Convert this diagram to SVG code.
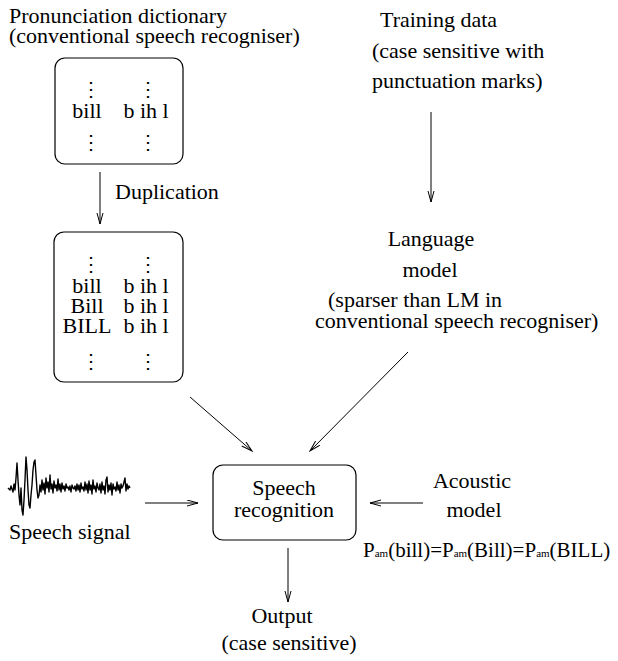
<svg xmlns="http://www.w3.org/2000/svg" width="618" height="661" viewBox="0 0 618 661">
<style>
text{font-family:"Liberation Serif","Times New Roman",serif;font-size:22px;fill:#000}
.dots{font-family:"DejaVu Serif",serif;font-size:20px}
.box{fill:none;stroke:#000;stroke-width:1.2}
.con line{stroke:#000;stroke-width:1;marker-end:url(#arr)}
.m{text-anchor:middle}
.pam{font-size:21px}
.sub{font-size:11px}
</style>
<defs>
<marker id="arr" markerUnits="userSpaceOnUse" markerWidth="13" markerHeight="8" refX="11" refY="3.5" orient="auto">
<path d="M0,0.5 L11,3.5 L0,6.5" fill="none" stroke="#000" stroke-width="1"/>
</marker>
</defs>
<rect width="618" height="661" fill="#fff"/>
<g id="dict-title">
<text x="9" y="23">Pronunciation dictionary</text>
<text x="9" y="43">(conventional speech recogniser)</text>
</g>
<g id="dict-box">
<rect class="box" x="55" y="58" width="128" height="106" rx="10"/>
<text class="dots m" x="91" y="96">⋮</text>
<text class="dots m" x="148" y="96">⋮</text>
<text class="m" x="87" y="118">bill</text>
<text class="m" x="146" y="118">b ih l</text>
<text class="dots m" x="91" y="149">⋮</text>
<text class="dots m" x="148" y="149">⋮</text>
</g>
<g id="duplication-label"><text x="115" y="199">Duplication</text></g>
<g id="dup-box">
<rect class="box" x="54" y="232" width="129" height="150" rx="10"/>
<text class="dots m" x="91" y="271">⋮</text>
<text class="dots m" x="148" y="271">⋮</text>
<text class="m" x="87" y="293">bill</text>
<text class="m" x="146" y="293">b ih l</text>
<text class="m" x="87" y="313">Bill</text>
<text class="m" x="146" y="313">b ih l</text>
<text class="m" x="87" y="333">BILL</text>
<text class="m" x="146" y="333">b ih l</text>
<text class="dots m" x="91" y="368">⋮</text>
<text class="dots m" x="148" y="368">⋮</text>
</g>
<g id="training-data">
<text x="380" y="27">Training data</text>
<text x="372" y="58">(case sensitive with</text>
<text x="372" y="88">punctuation marks)</text>
</g>
<g id="language-model">
<text class="m" x="431" y="246">Language</text>
<text class="m" x="430" y="277">model</text>
<text x="328" y="307">(sparser than LM in</text>
<text x="315" y="328">conventional speech recogniser)</text>
</g>
<g id="speech-signal">
<polyline fill="none" stroke="#000" stroke-width="1.4" stroke-linejoin="round" points="8,488 10,490 11,486 13,492 14,484 15,490 16,478 17,463 18,480 19,495 20,505 21,488 22,510 23,515 24,500 25,480 26,457 27,470 28,490 29,505 30,508 31,495 32,485 33,470 34,462 35,460 36,475 37,490 38,498 39,495 40,485 41,492 42,480 43,490 44,483 45,494 46,478 47,488 48,482 49,492 50,475 51,489 52,484 53,493 54,481 55,488 56,485 57,491 58,479 59,490 60,484 61,492 62,483 63,489 64,486 65,491 66,484 67,488 68,487 69,490 70,486 71,492 72,485 73,488 74,489 75,486 76,491 77,484 78,490 79,485 80,492 81,483 82,489 83,487 84,491 85,482 86,490 87,484 88,493 89,481 90,490 91,485 92,494 93,480 94,489 95,486 96,492 97,483 98,488 99,490 100,484 101,493 102,482 103,490 104,486 105,494 106,480 107,477 108,492 109,485 110,490 111,483 112,495 113,484 114,489 115,487 116,491 117,482 118,490 119,485 120,493 121,484 122,488 123,486 124,482 125,478 126,491 127,484 128,489 129,486 130,488"/>
<text x="9" y="539">Speech signal</text>
</g>
<g id="speech-recognition">
<rect class="box" x="213" y="465" width="143" height="75" rx="10"/>
<text class="m" x="284" y="495">Speech</text>
<text class="m" x="284" y="517">recognition</text>
</g>
<g id="acoustic-model">
<text class="m" x="472" y="488">Acoustic</text>
<text class="m" x="474" y="517">model</text>
<text class="pam" x="363" y="557">P<tspan class="sub">am</tspan>(bill)=P<tspan class="sub">am</tspan>(Bill)=P<tspan class="sub">am</tspan>(BILL)</text>
</g>
<g id="output">
<text class="m" x="282" y="623">Output</text>
<text class="m" x="289" y="650">(case sensitive)</text>
</g>
<g id="connectors" class="con">
<line x1="100" y1="172" x2="100" y2="224"/>
<line x1="431" y1="112" x2="431" y2="202"/>
<line x1="190" y1="397" x2="252" y2="451"/>
<line x1="408" y1="352" x2="310" y2="451"/>
<line x1="145" y1="503" x2="198" y2="503"/>
<line x1="423" y1="503" x2="370" y2="503"/>
<line x1="288" y1="548" x2="288" y2="602"/>
</g>
</svg>
